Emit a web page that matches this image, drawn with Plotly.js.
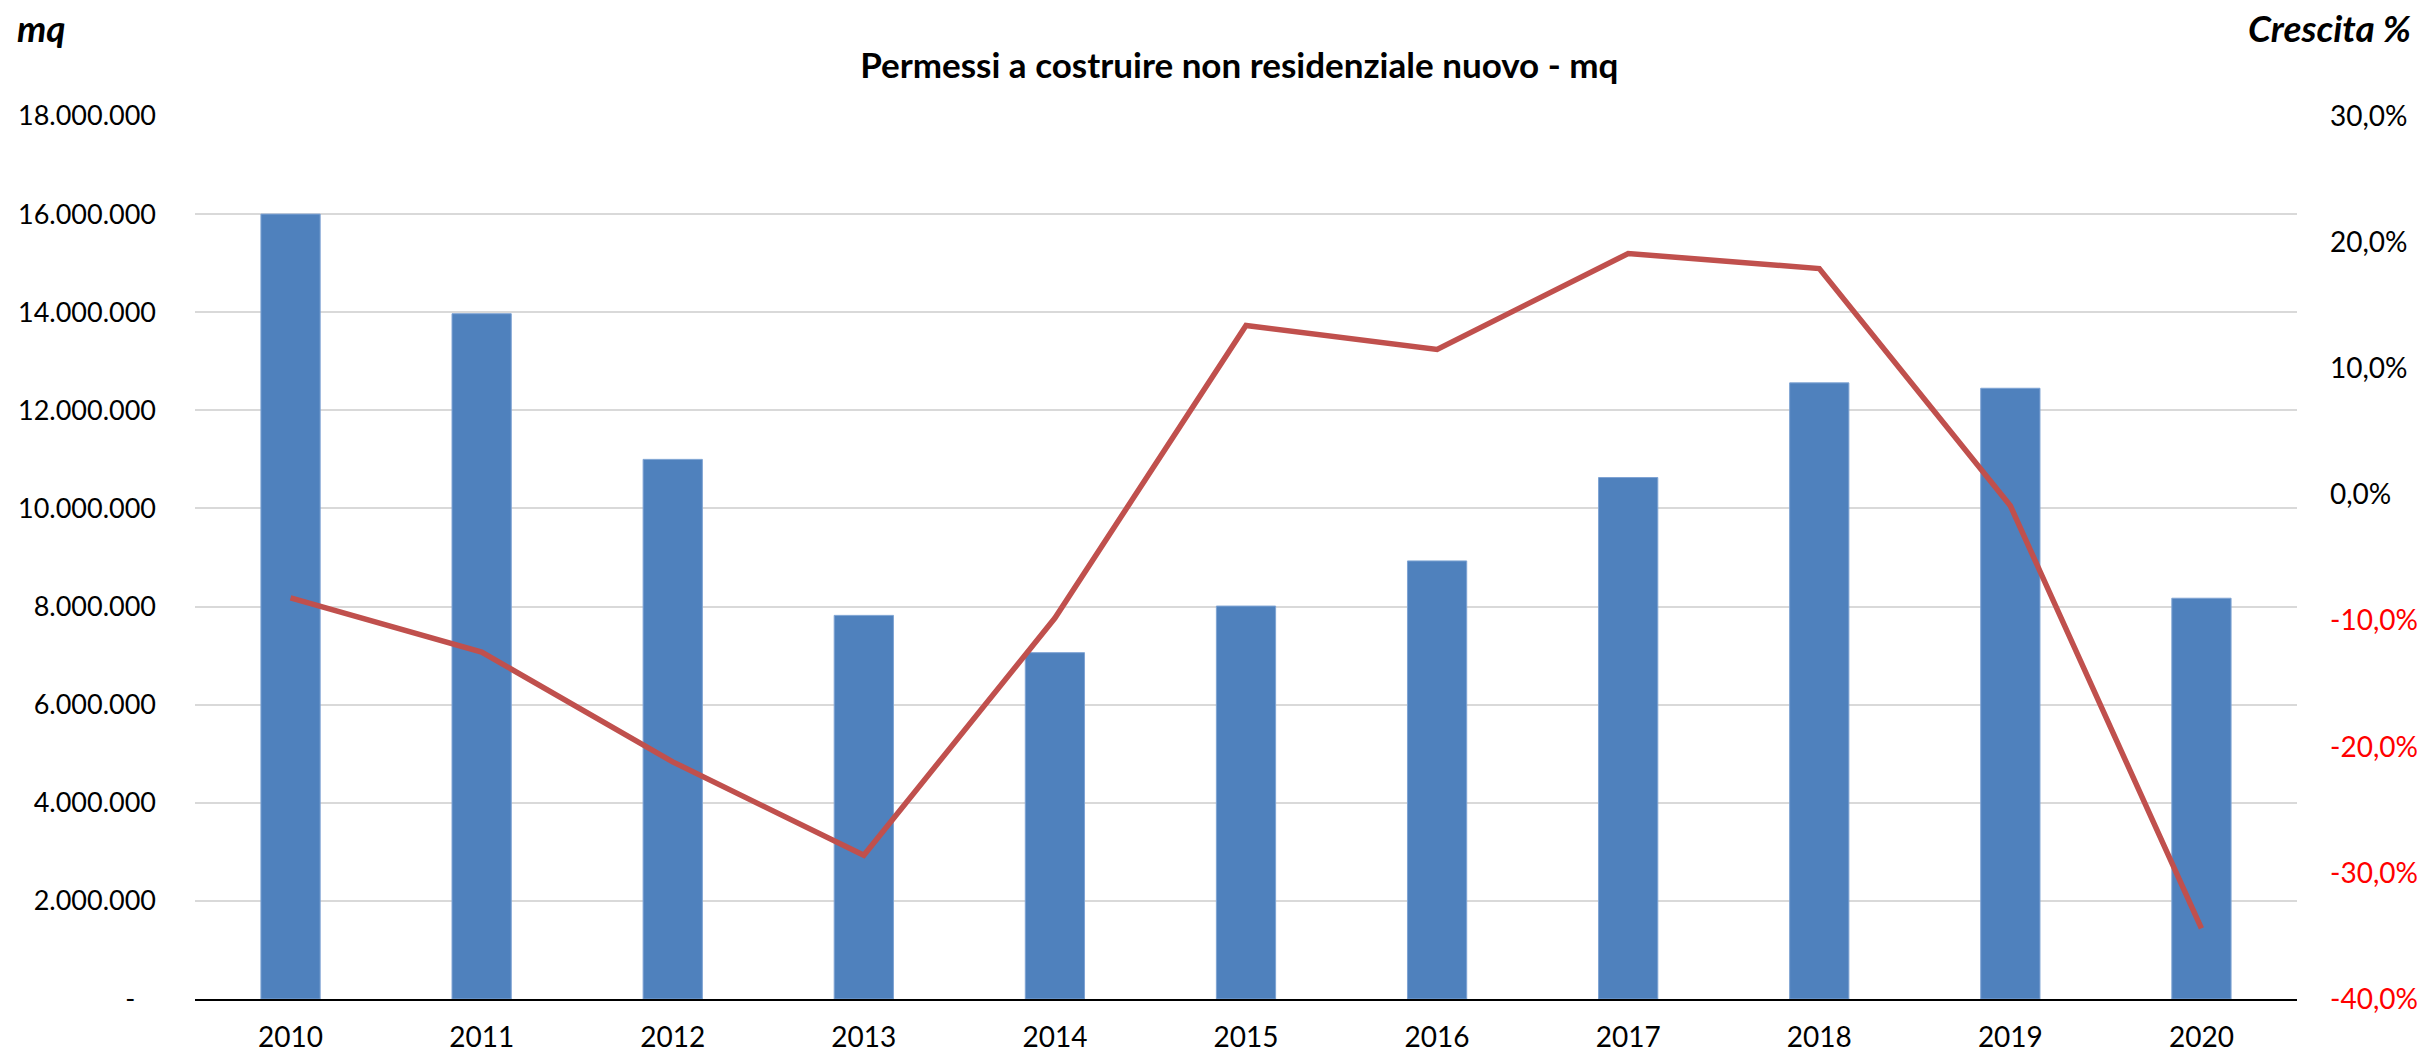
<!DOCTYPE html>
<html>
<head>
<meta charset="utf-8">
<script src="https://cdn.plot.ly/plotly-3.0.1.min.js"></script>
<style>html,body{margin:0;padding:0;background:#fff;}#chart{width:2430px;height:1053px;}</style>
</head>
<body>
<div id="chart"></div>
<script>
const years = ['2010','2011','2012','2013','2014','2015','2016','2017','2018','2019','2020'];
const mq = [16000000, 13970000, 11000000, 7820000, 7060000, 8010000, 8930000, 10630000, 12560000, 12450000, 8170000];
const crescita = [-8.2, -12.5, -21.2, -28.6, -9.8, 13.4, 11.5, 19.1, 17.9, -0.9, -34.4];

const leftTickVals = [0, 2000000, 4000000, 6000000, 8000000, 10000000, 12000000, 14000000, 16000000, 18000000];
const leftTickText = ['-\u00a0\u00a0\u00a0', '2.000.000', '4.000.000', '6.000.000', '8.000.000', '10.000.000', '12.000.000', '14.000.000', '16.000.000', '18.000.000'];
const rightTickVals = [-40, -30, -20, -10, 0, 10, 20, 30];
const rightTickLabels = ['-40,0%', '-30,0%', '-20,0%', '-10,0%', '0,0%', '10,0%', '20,0%', '30,0%'];
const rightTickText = rightTickLabels.map((t, i) => rightTickVals[i] < 0 ? '<span style="fill:#FF0000">' + t + '</span>' : t);

const FONT = 'Lato, "Open Sans", sans-serif';

const traces = [
  {
    type: 'bar',
    x: years,
    y: mq,
    width: 0.31,
    marker: {color: '#4F81BD', line: {color: '#7EA3D3', width: 1}},
    yaxis: 'y',
    hoverinfo: 'x+y'
  },
  {
    type: 'scatter',
    mode: 'lines',
    x: years,
    y: crescita,
    line: {color: '#C0504D', width: 5.5},
    yaxis: 'y2',
    hoverinfo: 'x+y'
  }
];

const layout = {
  width: 2430,
  height: 1053,
  margin: {l: 195, r: 133, t: 116, b: 54},
  paper_bgcolor: '#ffffff',
  plot_bgcolor: '#ffffff',
  showlegend: false,
  font: {family: FONT, size: 27, color: '#000000'},
  title: {
    text: '<b>Permessi a costruire non residenziale nuovo - mq</b>',
    font: {family: FONT, size: 35, color: '#000000'},
    xref: 'container', x: 0.51, xanchor: 'center',
    yref: 'container', y: 1 - 66/1053, yanchor: 'middle'
  },
  xaxis: {
    type: 'category',
    range: [-0.5, 10.5],
    showgrid: false,
    showline: true,
    linecolor: '#000000',
    linewidth: 2,
    ticks: '',
    tickfont: {family: FONT, size: 28, color: '#000000'},
    ticklabelstandoff: 12,
    zeroline: false
  },
  yaxis: {
    range: [0, 18000000],
    tickvals: leftTickVals,
    ticktext: leftTickText,
    showgrid: true,
    gridcolor: '#D9D9D9',
    gridwidth: 2,
    zeroline: false,
    showline: false,
    ticks: '',
    tickfont: {family: FONT, size: 27, color: '#000000'},
    ticklabelstandoff: 38
  },
  yaxis2: {
    overlaying: 'y',
    side: 'right',
    range: [-40, 30],
    tickvals: rightTickVals,
    ticktext: rightTickText,
    showgrid: false,
    zeroline: false,
    showline: false,
    ticks: '',
    tickfont: {family: FONT, size: 28, color: '#000000'},
    ticklabelstandoff: 32
  },
  annotations: [
    {
      text: '<b><i>mq</i></b>',
      xref: 'paper', yref: 'paper',
      x: (15 - 195) / 2102, y: (999 - 27) / 883,
      xanchor: 'left', yanchor: 'middle',
      showarrow: false,
      font: {family: FONT, size: 37, color: '#000000'}
    },
    {
      text: '<b><i>Crescita %</i></b>',
      xref: 'paper', yref: 'paper',
      x: (2413 - 195) / 2102, y: (999 - 27) / 883,
      xanchor: 'right', yanchor: 'middle',
      showarrow: false,
      font: {family: FONT, size: 37, color: '#000000'}
    }
  ]
};

Plotly.newPlot('chart', traces, layout, {displayModeBar: false, staticPlot: true});
</script>
</body>
</html>
